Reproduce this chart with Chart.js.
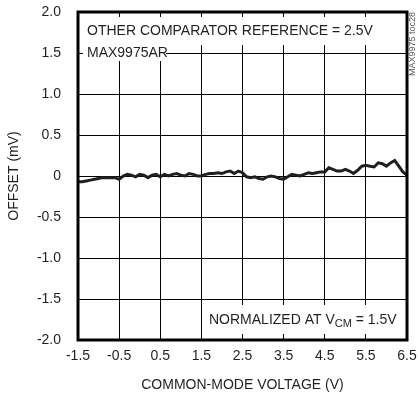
<!DOCTYPE html>
<html>
<head>
<meta charset="utf-8">
<script src="https://cdn.jsdelivr.net/npm/chart.js@4"></script>
<style>
  html, body { margin: 0; padding: 0; background: #fff; }
  #wrap { width: 418px; height: 401px; position: relative; }
</style>
</head>
<body>
<div id="wrap"><canvas id="offsetChart"></canvas></div>
<script>
// common-mode voltage (V), 0.1 V steps
const voltages = [
  -1.5, -1.4, -1.3, -1.2, -1.1, -1.0, -0.9, -0.8, -0.7, -0.6,
  -0.5, -0.4, -0.3, -0.2, -0.1, 0.0, 0.1, 0.2, 0.3, 0.4,
  0.5, 0.6, 0.7, 0.8, 0.9, 1.0, 1.1, 1.2, 1.3, 1.4,
  1.5, 1.6, 1.7, 1.8, 1.9, 2.0, 2.1, 2.2, 2.3, 2.4,
  2.5, 2.6, 2.7, 2.8, 2.9, 3.0, 3.1, 3.2, 3.3, 3.4,
  3.5, 3.6, 3.7, 3.8, 3.9, 4.0, 4.1, 4.2, 4.3, 4.4,
  4.5, 4.6, 4.7, 4.8, 4.9, 5.0, 5.1, 5.2, 5.3, 5.4,
  5.5, 5.6, 5.7, 5.8, 5.9, 6.0, 6.1, 6.2, 6.3, 6.4, 6.5
]
// offset (mV)
const offsets = [
  -0.07, -0.07, -0.06, -0.05, -0.04, -0.03, -0.02, -0.02, -0.02, -0.02,
  -0.04, 0.00, 0.02, 0.01, -0.01, 0.02, 0.01, -0.02, 0.01, 0.02,
  -0.01, 0.02, 0.00, 0.02, 0.03, 0.01, 0.00, 0.03, 0.02, 0.00,
  0.00, 0.02, 0.03, 0.03, 0.04, 0.03, 0.05, 0.06, 0.03, 0.06,
  0.04, -0.01, -0.02, -0.01, -0.03, -0.04, -0.01, 0.00, -0.01, -0.03,
  -0.04, -0.01, 0.02, 0.01, 0.00, 0.02, 0.04, 0.03, 0.04, 0.05,
  0.05, 0.10, 0.08, 0.06, 0.06, 0.08, 0.06, 0.03, 0.07, 0.12,
  0.13, 0.12, 0.11, 0.16, 0.15, 0.12, 0.16, 0.19, 0.12, 0.05, 0.01
]
const xTicks = [-1.5, -0.5, 0.5, 1.5, 2.5, 3.5, 4.5, 5.5, 6.5]
const yTicks = [-2.0, -1.5, -1.0, -0.5, 0, 0.5, 1.0, 1.5, 2.0]

const FONT = "'Liberation Sans', Arial, Helvetica, sans-serif"
const SIZE = 14
const INK = '#231f20'

// white label boxes + notes drawn over the grid
const notesPlugin = {
  id: 'notes',
  beforeDatasetsDraw(chart) {
    const { ctx, chartArea: a } = chart
    ctx.save()
    ctx.fillStyle = '#fff'
    ctx.fillRect(a.left + 5, a.top + 5, 283, 28)
    ctx.fillRect(a.left + 5, a.top + 33, 83, 16)
    ctx.fillRect(a.left + 126, a.bottom - 35, a.right - a.left - 128, 29)

    ctx.fillStyle = INK
    ctx.font = SIZE + 'px ' + FONT
    ctx.textBaseline = 'middle'
    ctx.textAlign = 'left'
    ctx.fillText('OTHER COMPARATOR REFERENCE = 2.5V', a.left + 9, a.top + 19)
    ctx.fillText('MAX9975AR', a.left + 9, a.top + 41)

    let x = a.left + 131
    const y = a.bottom - 20
    ctx.fillText('NORMALIZED AT V', x, y)
    x += ctx.measureText('NORMALIZED AT V').width
    ctx.font = '11px ' + FONT
    ctx.fillText('CM', x, y + 4)
    x += ctx.measureText('CM').width
    ctx.font = SIZE + 'px ' + FONT
    ctx.fillText(' = 1.5V', x, y)

    // figure id on the right edge
    ctx.font = '9px ' + FONT
    ctx.fillStyle = '#555'
    ctx.translate(a.right + 6, a.top)
    ctx.rotate(-Math.PI / 2)
    ctx.textAlign = 'right'
    ctx.fillText('MAX9975 toc28', 0, 0)
    ctx.restore()
  },
  afterDraw(chart) {
    const { ctx, chartArea: a } = chart
    ctx.save()
    ctx.strokeStyle = '#000'
    ctx.lineWidth = 3
    ctx.strokeRect(a.left, a.top, a.right - a.left, a.bottom - a.top)
    ctx.restore()
  }
}

window.onload = () => {
  const ctx = document.getElementById('offsetChart')
  new Chart(ctx, {
    type: 'line',
    data: {
      datasets: [{
        data: voltages.map((v, i) => ({ x: v, y: offsets[i] })),
        borderColor: INK,
        borderWidth: 3,
        pointRadius: 0,
        tension: 0,
        fill: false
      }]
    },
    options: {
      responsive: true,
      maintainAspectRatio: false,
      animation: false,
      events: [],
      layout: { padding: { top: 12, right: 11, left: 0, bottom: 0 } },
      plugins: { legend: { display: false }, tooltip: { enabled: false } },
      scales: {
        x: {
          type: 'linear',
          min: -1.5,
          max: 6.5,
          afterBuildTicks: s => { s.ticks = xTicks.map(v => ({ value: v })) },
          afterFit: s => { s.height = 61; s.paddingLeft = 0; s.paddingRight = 0 },
          grid: { color: '#000', lineWidth: 1, drawTicks: false },
          border: { display: false },
          ticks: {
            color: INK,
            padding: 8,
            maxRotation: 0,
            font: { family: FONT, size: SIZE },
            callback: v => v.toFixed(1)
          },
          title: {
            display: true,
            text: 'COMMON-MODE VOLTAGE (V)',
            color: INK,
            font: { family: FONT, size: SIZE },
            padding: { top: 0, bottom: 7 }
          }
        },
        y: {
          type: 'linear',
          min: -2,
          max: 2,
          afterBuildTicks: s => { s.ticks = yTicks.map(v => ({ value: v })) },
          afterFit: s => { s.width = 78; s.paddingTop = 0; s.paddingBottom = 0 },
          grid: { color: '#000', lineWidth: 1, drawTicks: false },
          border: { display: false },
          ticks: {
            color: INK,
            padding: 17,
            font: { family: FONT, size: SIZE },
            callback: v => v === 0 ? '0' : v.toFixed(1)
          },
          title: {
            display: true,
            text: 'OFFSET (mV)',
            color: INK,
            font: { family: FONT, size: SIZE },
            padding: { top: 6, bottom: 0 }
          }
        }
      }
    },
    plugins: [notesPlugin]
  })
}
</script>
</body>
</html>
